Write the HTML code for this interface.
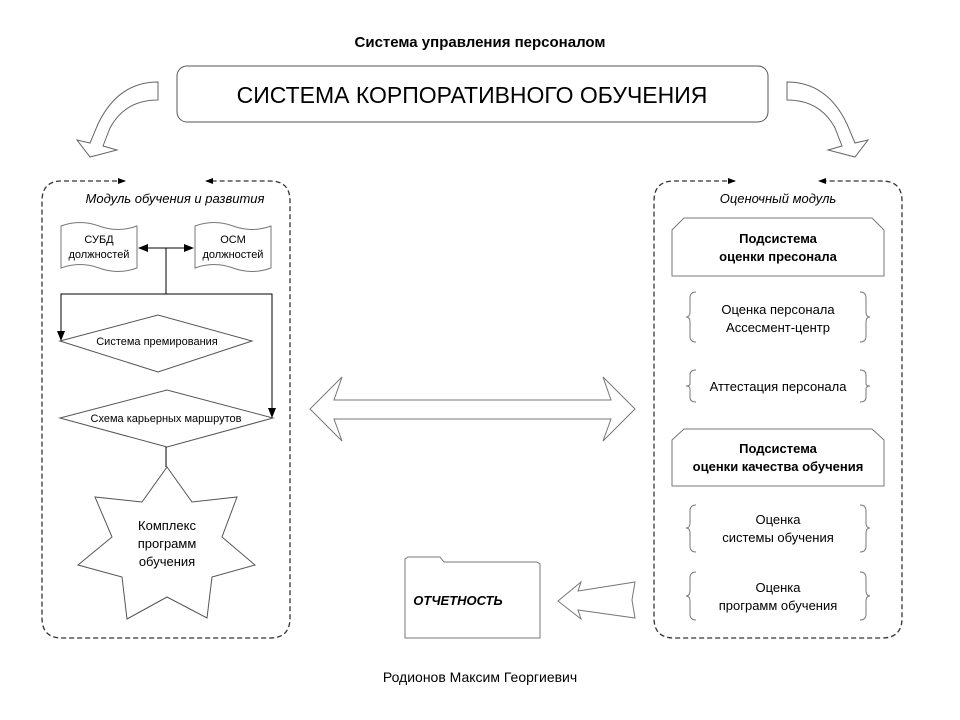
<!DOCTYPE html>
<html><head><meta charset="utf-8"><style>
body{margin:0;background:#fff;}
svg{display:block;font-family:"Liberation Sans",Arial,sans-serif;}
</style></head><body>
<svg width="960" height="720" viewBox="0 0 960 720" xmlns="http://www.w3.org/2000/svg">
<defs>
<marker id="ah" markerWidth="10" markerHeight="8" refX="9" refY="4" orient="auto" markerUnits="userSpaceOnUse"><path d="M0,0 L10,4 L0,8 z" fill="#000"/></marker>
</defs>
<text x="480" y="47" text-anchor="middle" font-size="15" font-weight="bold">Система управления персоналом</text>
<rect x="177" y="66" width="591" height="56" rx="10" fill="#fff" stroke="#555" stroke-width="1"/>
<text x="472" y="103" text-anchor="middle" font-size="23">СИСТЕМА КОРПОРАТИВНОГО ОБУЧЕНИЯ</text>

<!-- curved arrows -->
<path d="M158,82 L158,100 Q125,100 110,128 L103,146 L117,150 L90,157 L77,140 L90,143 L98,124 Q118,82 158,82 Z" fill="#fff" stroke="#666" stroke-width="1"/>
<path d="M787,82 L787,100 Q820,100 835,128 L842,146 L828,150 L855,157 L868,140 L855,143 L847,124 Q827,82 787,82 Z" fill="#fff" stroke="#666" stroke-width="1"/>

<!-- left dashed box -->
<path d="M125,181 L62,181 Q42,181 42,201 L42,618 Q42,638 62,638 L270,638 Q290,638 290,618 L290,201 Q290,181 270,181 L207,181" fill="none" stroke="#333" stroke-width="1.3" stroke-dasharray="5,3"/>
<path d="M118,178 L126,181 L118,184z M213,178 L205,181 L213,184z" fill="#000"/>
<text x="175" y="203" text-anchor="middle" font-size="13" font-style="italic">Модуль обучения и развития</text>

<!-- docs -->
<path d="M61,226 Q80,219 99,226 Q118,233 137,226 L137,268 Q118,275 99,268 Q80,261 61,268 Z" fill="#fff" stroke="#777"/>
<text x="99" y="243" text-anchor="middle" font-size="11">СУБД</text>
<text x="99" y="258" text-anchor="middle" font-size="11">должностей</text>
<path d="M195,226 Q214,219 233,226 Q252,233 271,226 L271,268 Q252,275 233,268 Q214,261 195,268 Z" fill="#fff" stroke="#777"/>
<text x="233" y="243" text-anchor="middle" font-size="11">ОСМ</text>
<text x="233" y="258" text-anchor="middle" font-size="11">должностей</text>
<line x1="148" y1="248" x2="184" y2="248" stroke="#000"/>
<path d="M138,248 L148,244 L148,252z M194,248 L184,244 L184,252z" fill="#000"/>
<polyline points="166,248 166,294" fill="none" stroke="#000"/>
<polyline points="61,341 61,294 272,294 272,418" fill="none" stroke="#000"/>
<path d="M57,331 L61,341 L65,331z M268,408 L272,418 L276,408z" fill="#000"/>

<polygon points="60,341 158,315 252,341 158,372" fill="#fff" stroke="#555"/>
<text x="157" y="345" text-anchor="middle" font-size="11">Система премирования</text>
<polygon points="60,418 167,390 273,418 167,447" fill="#fff" stroke="#555"/>
<text x="166" y="422" text-anchor="middle" font-size="11">Схема карьерных маршрутов</text>
<line x1="166" y1="447" x2="166" y2="467" stroke="#000"/>
<polygon points="167,467 192,502 237,497 222,537 255,565 212,577 207,618 167,597 127,619 122,577 78,565 112,537 95,497 142,502" fill="#fff" stroke="#555"/>
<text x="167" y="530" text-anchor="middle" font-size="13">Комплекс</text>
<text x="167" y="548" text-anchor="middle" font-size="13">программ</text>
<text x="167" y="566" text-anchor="middle" font-size="13">обучения</text>

<!-- double arrow -->
<polygon points="310,409 342,377 334,400 611,400 603,377 635,409 603,441 611,419 334,419 342,441" fill="#fff" stroke="#777"/>

<!-- right dashed box -->
<path d="M735,181 L674,181 Q654,181 654,201 L654,618 Q654,638 674,638 L882,638 Q902,638 902,618 L902,201 Q902,181 882,181 L820,181" fill="none" stroke="#333" stroke-width="1.3" stroke-dasharray="5,3"/>
<path d="M728,178 L736,181 L728,184z M826,178 L818,181 L826,184z" fill="#000"/>
<text x="778" y="203" text-anchor="middle" font-size="13" font-style="italic">Оценочный модуль</text>

<polygon points="672,276 672,230 684,218 872,218 884,230 884,276" fill="#fff" stroke="#777"/>
<text x="778" y="243" text-anchor="middle" font-size="13" font-weight="bold">Подсистема</text>
<text x="778" y="261" text-anchor="middle" font-size="13" font-weight="bold">оценки пресонала</text>

<g fill="none" stroke="#777">
<path d="M696,292 Q690,292 690,298 L690,312 Q690,317 686,317 Q690,317 690,322 L690,336 Q690,342 696,342"/>
<path d="M860,292 Q866,292 866,298 L866,312 Q866,317 870,317 Q866,317 866,322 L866,336 Q866,342 860,342"/>
<path d="M696,370 Q690,370 690,375 L690,384 Q690,386 686,386 Q690,386 690,389 L690,397 Q690,402 696,402"/>
<path d="M860,370 Q866,370 866,375 L866,384 Q866,386 870,386 Q866,386 866,389 L866,397 Q866,402 860,402"/>
<path d="M696,505 Q690,505 690,511 L690,523 Q690,528 686,528 Q690,528 690,533 L690,546 Q690,552 696,552"/>
<path d="M860,505 Q866,505 866,511 L866,523 Q866,528 870,528 Q866,528 866,533 L866,546 Q866,552 860,552"/>
<path d="M696,572 Q690,572 690,578 L690,590 Q690,596 686,596 Q690,596 690,601 L690,614 Q690,620 696,620"/>
<path d="M860,572 Q866,572 866,578 L866,590 Q866,596 870,596 Q866,596 866,601 L866,614 Q866,620 860,620"/>
</g>
<text x="778" y="314" text-anchor="middle" font-size="13">Оценка персонала</text>
<text x="778" y="332" text-anchor="middle" font-size="13">Ассесмент-центр</text>
<text x="778" y="391" text-anchor="middle" font-size="13">Аттестация персонала</text>

<polygon points="672,486 672,440 684,429 872,429 884,440 884,486" fill="#fff" stroke="#777"/>
<text x="778" y="453" text-anchor="middle" font-size="13" font-weight="bold">Подсистема</text>
<text x="778" y="471" text-anchor="middle" font-size="13" font-weight="bold">оценки качества обучения</text>
<text x="778" y="524" text-anchor="middle" font-size="13">Оценка</text>
<text x="778" y="542" text-anchor="middle" font-size="13">системы обучения</text>
<text x="778" y="592" text-anchor="middle" font-size="13">Оценка</text>
<text x="778" y="610" text-anchor="middle" font-size="13">программ обучения</text>

<!-- folder -->
<path d="M405,638 L405,559 L408,557 L440,557 L444,562 L537,562 L540,564 L540,638 Z" fill="#fff" stroke="#777"/>
<text x="458" y="605" text-anchor="middle" font-size="13" font-weight="bold" font-style="italic">ОТЧЕТНОСТЬ</text>

<!-- left arrow -->
<polygon points="558,601 581,582 578,591 635,582 632,600 635,618 578,610 581,619" fill="#fff" stroke="#777"/>

<text x="480" y="682" text-anchor="middle" font-size="14">Родионов Максим Георгиевич</text>
</svg>
</body></html>
